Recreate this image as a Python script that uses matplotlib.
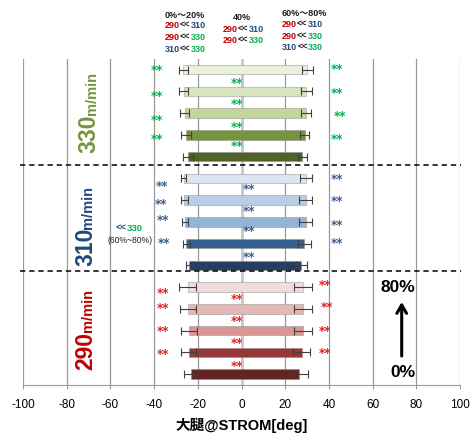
import matplotlib
matplotlib.use('Agg')
import matplotlib.pyplot as plt

# ---------------- data (phase order: 0%, 20%, 40%, 60%, 80%) ----------------
phases = ['0%', '20%', '40%', '60%', '80%']
speeds = ['330', '310', '290']

min_330 = [-24.6, -25.5, -25.9, -26.4, -26.7]
max_330 = [27.8, 29.0, 29.6, 29.6, 30.1]
emin_330 = [2.4, 2.3, 2.1, 2.1, 2.1]
emax_330 = [2.1, 2.1, 2.2, 2.5, 2.5]

min_310 = [-23.8, -25.2, -25.8, -26.1, -26.4]
max_310 = [27.3, 28.7, 29.3, 29.3, 29.6]
emin_310 = [1.5, 1.7, 1.5, 1.4, 1.2]
emax_310 = [2.5, 2.9, 2.8, 2.8, 2.7]

min_290 = [-23.2, -24.1, -24.1, -24.4, -24.6]
max_290 = [26.1, 27.5, 28.1, 28.2, 28.2]
emin_290 = [2.9, 3.5, 3.8, 3.7, 4.0]
emax_290 = [4.2, 4.0, 4.1, 4.0, 4.0]

xticks = [-100, -80, -60, -40, -20, 0, 20, 40, 60, 80, 100]
xlabel = '大腿@STROM[deg]'

# ---------------- styles ----------------
colors = {
    '330': ['#4F6228', '#77933C', '#C3D69B', '#D7E4BD', '#EBF1DE'],
    '310': ['#243F60', '#376092', '#95B3D7', '#B9CDE5', '#DCE6F2'],
    '290': ['#632523', '#953735', '#D99694', '#E6B9B8', '#F2DCDB'],
}
label_col = {'330': '#77933C', '310': '#1F497D', '290': '#C00000'}
star_col = {'330': '#00B050', '310': '#385D8A', '290': '#E02020'}
RED, BLUE, GREEN = '#C00000', '#1F497D', '#00B050'

data = {
    '330': (min_330, max_330, emin_330, emax_330),
    '310': (min_310, max_310, emin_310, emax_310),
    '290': (min_290, max_290, emin_290, emax_290),
}

W, H = 472, 440
fig = plt.figure(figsize=(W / 100, H / 100), dpi=100)
ax = fig.add_axes([23 / W, 55 / H, 437 / W, 326.3 / H])
ax.set_xlim(-100, 100)
ax.set_ylim(14.5, -0.5)

for x in xticks:
    if x == 0:
        ax.axvline(x, color='#C8C8C8', lw=2.0, zorder=0)
    else:
        ax.axvline(x, color='#9A9A9A', lw=0.9, zorder=0)

for g, sp in enumerate(speeds):
    mn, mx, emn, emx = data[sp]
    for p in range(len(phases)):
        y = g * 5 + (4 - p)
        ax.barh(y, mx[p] - mn[p], left=mn[p], height=0.43,
                color=colors[sp][p], edgecolor=(0.55, 0.55, 0.55, 0.45),
                linewidth=0.8, zorder=2)
        ax.errorbar([mn[p]], [y], xerr=[emn[p]], fmt='none', ecolor='#404040',
                    elinewidth=0.8, capsize=2.6, capthick=0.8, zorder=3)
        ax.errorbar([mx[p]], [y], xerr=[emx[p]], fmt='none', ecolor='#404040',
                    elinewidth=0.8, capsize=2.6, capthick=0.8, zorder=3)

# dashed separators
for yy in (4.39, 9.26):
    ax.plot([-101.5, 100.5], [yy, yy], ls=(0, (3.5, 2.5)), color='black',
            lw=1.1, clip_on=False, zorder=4)

# significance marks (layout positions)
stars = {
    '330': [(-38.6, -0.06), (-38.6, 1.12), (-38.6, 2.24), (-38.6, 3.10),
            (43.8, -0.12), (43.8, 1.0), (45.0, 2.07), (43.8, 3.11),
            (-2.1, 0.56), (-2.1, 1.50), (-2.1, 2.55), (-2.1, 3.44)],
    '310': [(-36.3, 5.26), (-36.8, 6.12), (-35.9, 6.84), (-35.6, 7.90),
            (43.8, 4.95), (43.8, 5.96), (43.8, 7.07), (43.8, 7.91),
            (3.5, 5.39), (3.5, 6.41), (3.5, 7.33), (3.5, 8.56)],
    '290': [(-35.8, 10.21), (-35.8, 10.90), (-35.8, 11.93), (-35.8, 12.99),
            (38.1, 9.83), (39.0, 10.86), (38.1, 11.93), (38.1, 12.97),
            (-2.1, 10.47), (-2.1, 11.47), (-2.1, 12.47), (-2.1, 13.55)],
}
for sp, pts in stars.items():
    for (x, y) in pts:
        ax.text(x, y + 0.1, '**', color=star_col[sp], fontsize=8.5,
                fontweight='bold', ha='center', va='center', zorder=5)

# speed labels (rotated)
lab_pos = {'330': (-66.8, 3.84, 2.09), '310': (-68.2, 9.04, 7.33),
           '290': (-68.2, 13.81, 12.05)}
for sp, (x, y1, y2) in lab_pos.items():
    ax.text(x, y1, sp, rotation=90, rotation_mode='anchor', ha='left',
            va='baseline', fontsize=16.5, fontweight='bold',
            family='Liberation Sans', color=label_col[sp])
    ax.text(x, y2, 'm/min', rotation=90, rotation_mode='anchor', ha='left',
            va='baseline', fontsize=10.5, fontweight='bold',
            family='Liberation Sans', color=label_col[sp])

# axis styling
for s in ('top', 'left', 'right'):
    ax.spines[s].set_visible(False)
ax.spines['bottom'].set_color('#9A9A9A')
ax.set_xticks(xticks)
ax.set_xticklabels([str(v) for v in xticks], family='Liberation Sans')
ax.set_yticks([])
ax.tick_params(axis='x', direction='out', length=3, color='#9A9A9A',
               labelsize=8.5, pad=7)
ax.set_xlabel(xlabel, fontsize=10.5, fontweight='bold',
              family=['Liberation Sans', 'Noto Sans CJK JP'], labelpad=5)

FAM = ['Liberation Sans', 'Noto Sans CJK JP']


def ctext(x, y, parts, size=6.5, weight='bold'):
    """Multi-coloured text run at figure pixel (x, y) measured from top-left."""
    prev = ax.annotate(parts[0][0], xy=(x, H - y), xycoords='figure pixels',
                       color=parts[0][1], fontsize=size, fontweight=weight,
                       family=FAM, ha='left', va='center',
                       annotation_clip=False)
    for s, c in parts[1:]:
        prev = ax.annotate(s, xy=(1, 0), xycoords=prev, color=c,
                           fontsize=size, fontweight=weight, family=FAM,
                           ha='left', va='bottom', annotation_clip=False)


K = '#202020'
ctext(165, 15, [('0%～20%', K)])
ctext(165, 25.5, [('290', RED), ('<<', K), ('310', BLUE)])
ctext(165, 37.5, [('290', RED), ('<<', K), ('330', GREEN)])
ctext(165, 49, [('310', BLUE), ('<<', K), ('330', GREEN)])

ctext(233, 17.5, [('40%', K)])
ctext(223, 29, [('290', RED), ('<<', K), ('310', BLUE)])
ctext(223, 40.5, [('290', RED), ('<<', K), ('330', GREEN)])

ctext(282, 13.5, [('60%～80%', K)])
ctext(282, 24.5, [('290', RED), ('<<', K), ('310', BLUE)])
ctext(282, 36, [('290', RED), ('<<', K), ('330', GREEN)])
ctext(282, 47.5, [('310', BLUE), ('<<', K), ('330', GREEN)])

ctext(116, 228.5, [('<<', BLUE), ('330', GREEN)], size=6.8)
ctext(107, 240.5, [('(60%~80%)', K)], size=6.2, weight='normal')

# 0% -> 80% arrow
fig.text(398 / W, 1 - 288 / H, '80%', fontsize=12.5, fontweight='bold',
         family='Liberation Sans', ha='center', va='center')
fig.text(403 / W, 1 - 372 / H, '0%', fontsize=12.5, fontweight='bold',
         family='Liberation Sans', ha='center', va='center')
ax.annotate('', xy=(401.7, H - 302), xytext=(401.7, H - 356),
            xycoords='figure pixels', textcoords='figure pixels',
            arrowprops=dict(arrowstyle='->,head_length=0.6,head_width=0.35',
                            lw=2.2, color='black', shrinkA=0, shrinkB=0))

fig.savefig('out.png', dpi=100)
